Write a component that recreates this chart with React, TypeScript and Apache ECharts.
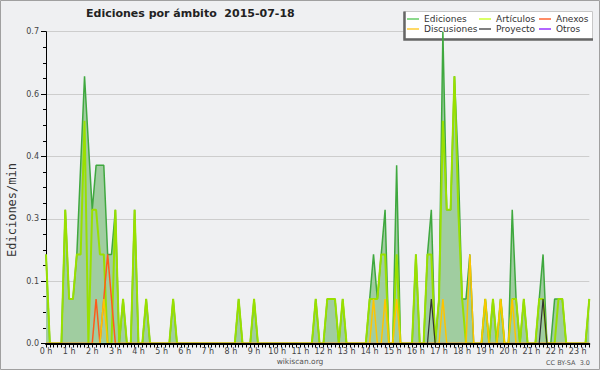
import React, { useEffect, useRef } from "react";
import * as echarts from "echarts";

// Values every 10 minutes from 0:00 to 23:30 (one row per hour)
const ediciones = [
  0.2, 0, 0, 0, 0, 0.3,
  0.1, 0.1, 0.2, 0.4, 0.6, 0.45,
  0.3, 0.4, 0.4, 0.4, 0.2, 0.2,
  0.3, 0, 0.1, 0, 0, 0.3,
  0, 0, 0.1, 0, 0, 0,
  0, 0, 0, 0.1, 0, 0,
  0, 0, 0, 0, 0, 0,
  0, 0, 0, 0, 0, 0,
  0, 0, 0.1, 0, 0, 0,
  0.1, 0, 0, 0, 0, 0,
  0, 0, 0, 0, 0, 0,
  0, 0, 0, 0, 0.1, 0,
  0, 0.1, 0.1, 0.1, 0, 0.1,
  0, 0, 0, 0, 0, 0,
  0.1, 0.2, 0.1, 0.2, 0.3, 0,
  0, 0.4, 0, 0, 0, 0,
  0.2, 0, 0, 0.2, 0.3, 0,
  0.1, 0.7, 0.3, 0.3, 0.6, 0.4,
  0.1, 0.1, 0.2, 0, 0, 0,
  0.1, 0, 0.1, 0, 0.1, 0,
  0, 0.3, 0.1, 0, 0.1, 0,
  0, 0, 0.1, 0.2, 0, 0,
  0.1, 0.1, 0.1, 0, 0, 0,
  0, 0, 0, 0.1,
];

const articulos = [
  0.2, 0, 0, 0, 0, 0.3,
  0.1, 0.1, 0.2, 0.2, 0.5, 0,
  0.3, 0.3, 0.2, 0.2, 0, 0,
  0.3, 0, 0.1, 0, 0, 0.3,
  0, 0, 0.1, 0, 0, 0,
  0, 0, 0, 0.1, 0, 0,
  0, 0, 0, 0, 0, 0,
  0, 0, 0, 0, 0, 0,
  0, 0, 0.1, 0, 0, 0,
  0.1, 0, 0, 0, 0, 0,
  0, 0, 0, 0, 0, 0,
  0, 0, 0, 0, 0.1, 0,
  0, 0.1, 0.1, 0.1, 0, 0.1,
  0, 0, 0, 0, 0, 0,
  0.1, 0.1, 0.1, 0.2, 0.2, 0,
  0, 0.2, 0, 0, 0, 0,
  0.2, 0, 0, 0.2, 0.2, 0,
  0.1, 0.5, 0.3, 0.3, 0.6, 0.3,
  0.1, 0, 0, 0, 0, 0,
  0.1, 0, 0.1, 0, 0.1, 0,
  0, 0.1, 0.1, 0, 0.1, 0,
  0, 0, 0.1, 0.1, 0, 0,
  0, 0.1, 0.1, 0, 0, 0,
  0, 0, 0, 0.1,
];

const anexos = [
  0, 0, 0, 0, 0, 0,
  0, 0, 0, 0, 0, 0,
  0, 0.1, 0, 0.1, 0.2, 0.1,
  0, 0, 0, 0, 0, 0,
  0, 0, 0, 0, 0, 0,
  0, 0, 0, 0, 0, 0,
  0, 0, 0, 0, 0, 0,
  0, 0, 0, 0, 0, 0,
  0, 0, 0, 0, 0, 0,
  0, 0, 0, 0, 0, 0,
  0, 0, 0, 0, 0, 0,
  0, 0, 0, 0, 0, 0,
  0, 0, 0, 0, 0, 0,
  0, 0, 0, 0, 0, 0,
  0, 0, 0, 0, 0, 0,
  0, 0, 0, 0, 0, 0,
  0, 0, 0, 0, 0, 0,
  0, 0, 0, 0, 0, 0,
  0, 0, 0, 0, 0, 0,
  0, 0, 0, 0, 0, 0,
  0, 0, 0, 0, 0, 0,
  0, 0, 0, 0, 0, 0,
  0, 0, 0, 0, 0, 0,
  0, 0, 0, 0,
];

const discusiones = [
  0, 0, 0, 0, 0, 0,
  0, 0, 0, 0, 0, 0,
  0, 0, 0, 0.1, 0, 0,
  0, 0, 0, 0, 0, 0,
  0, 0, 0, 0, 0, 0,
  0, 0, 0, 0, 0, 0,
  0, 0, 0, 0, 0, 0,
  0, 0, 0, 0, 0, 0,
  0, 0, 0, 0, 0, 0,
  0, 0, 0, 0, 0, 0,
  0, 0, 0, 0, 0, 0,
  0, 0, 0, 0, 0, 0,
  0, 0, 0, 0, 0, 0,
  0, 0, 0, 0, 0, 0,
  0, 0.1, 0, 0, 0.1, 0,
  0, 0.1, 0, 0, 0, 0,
  0, 0, 0, 0, 0, 0,
  0, 0.1, 0, 0, 0, 0,
  0, 0, 0.2, 0, 0, 0,
  0.1, 0, 0, 0, 0.1, 0,
  0, 0.1, 0, 0, 0, 0,
  0, 0, 0, 0, 0, 0,
  0, 0, 0, 0, 0, 0,
  0, 0, 0, 0,
];

const proyecto = [
  0, 0, 0, 0, 0, 0,
  0, 0, 0, 0, 0, 0,
  0, 0, 0, 0, 0, 0,
  0, 0, 0, 0, 0, 0,
  0, 0, 0, 0, 0, 0,
  0, 0, 0, 0, 0, 0,
  0, 0, 0, 0, 0, 0,
  0, 0, 0, 0, 0, 0,
  0, 0, 0, 0, 0, 0,
  0, 0, 0, 0, 0, 0,
  0, 0, 0, 0, 0, 0,
  0, 0, 0, 0, 0, 0,
  0, 0, 0, 0, 0, 0,
  0, 0, 0, 0, 0, 0,
  0, 0, 0, 0, 0, 0,
  0, 0, 0, 0, 0, 0,
  0, 0, 0, 0, 0.1, 0,
  0, 0, 0, 0, 0, 0,
  0, 0, 0, 0, 0, 0,
  0, 0, 0, 0, 0, 0,
  0, 0, 0, 0, 0, 0,
  0, 0, 0, 0.1, 0, 0,
  0, 0, 0, 0, 0, 0,
  0, 0, 0, 0,
];

const otros: number[] = [];

const seriesNames = ["Ediciones", "Artículos", "Anexos", "Discusiones", "Proyecto", "Otros"];
const STEP_HOURS = 1 / 6;

const toPoints = (arr: number[]) => arr.map((v, i) => [i * STEP_HOURS, v]);

export default function App() {
  const ref = useRef<HTMLDivElement>(null);

  useEffect(() => {
    document.body.style.margin = "0";
    if (!ref.current) return;
    const chart = echarts.init(ref.current, undefined, { renderer: "svg" });
    const font = "DejaVu Sans";
    const legendText = { fontSize: 9, color: "#333", fontFamily: font, lineHeight: 10 };
    const mkLegend = (names: string[], colors: string[], left: number) => ({
      orient: "vertical",
      left,
      top: 14,
      padding: 0,
      itemGap: 0,
      itemWidth: 12,
      itemHeight: 1.5,
      selectedMode: false,
      z: 10,
      textStyle: legendText,
      data: names.map((n, k) => ({
        name: n,
        icon: "rect",
        itemStyle: { color: colors[k] },
      })),
    });

    const lineSeries = (name: string, data: number[], color: string, width: number, extra: any = {}) => ({
      name,
      type: "line",
      data: toPoints(data),
      symbol: "none",
      showSymbol: false,
      lineStyle: { color, width },
      itemStyle: { color },
      ...extra,
    });

    chart.setOption({
      animation: false,
      backgroundColor: "#eff0f2",
      grid: { left: 46, right: 10.7, top: 31.7, bottom: 26.5 },
      xAxis: {
        type: "value",
        min: 0,
        max: 23.5,
        interval: 1,
        z: 5,
        axisLine: { show: true, lineStyle: { color: "#000", width: 2 } },
        axisTick: { show: true, length: 4, lineStyle: { color: "#000" } },
        minorTick: { show: true, splitNumber: 6, length: 4, lineStyle: { color: "#000" } },
        splitLine: { show: false },
        axisLabel: {
          formatter: (v: number) => `${v} h`,
          fontSize: 8,
          color: "#444",
          fontFamily: font,
          margin: 4,
        },
      },
      yAxis: {
        type: "value",
        min: 0,
        max: 0.7,
        interval: 0.14,
        axisLine: { show: true, lineStyle: { color: "#000", width: 1 } },
        axisTick: { show: true, length: 5, lineStyle: { color: "#000" } },
        minorTick: { show: true, splitNumber: 4, length: 3, lineStyle: { color: "#000" } },
        splitLine: { show: true, lineStyle: { color: "#cdcdcd", width: 1 } },
        axisLabel: {
          formatter: (v: number) => v.toFixed(1),
          fontSize: 8,
          color: "#444",
          fontFamily: font,
          margin: 7,
        },
      },
      legend: [
        mkLegend([seriesNames[0], seriesNames[3]], ["#66cc66", "#ffcc33"], 407),
        mkLegend([seriesNames[1], seriesNames[4]], ["#ccff33", "#555555"], 479),
        mkLegend([seriesNames[2], seriesNames[5]], ["#ff6633", "#9933ff"], 539),
      ],
      series: [
        lineSeries(seriesNames[0], ediciones, "#3fa83f", 1.5, {
          areaStyle: { color: "#a0cda0", opacity: 1 },
        }),
        lineSeries(seriesNames[1], articulos, "#99e000", 2),
        lineSeries(seriesNames[2], anexos, "#ff5a1a", 1.5),
        lineSeries(seriesNames[3], discusiones, "#ffc400", 1.5),
        lineSeries(seriesNames[4], proyecto, "#333333", 1.2),
        lineSeries(seriesNames[5], otros, "#9933ff", 1.2),
      ],
      graphic: [
        {
          type: "rect",
          z: 0,
          shape: { x: 0.5, y: 0.5, width: 599, height: 369 },
          style: { fill: "none", stroke: "#a0a0a0", lineWidth: 1 },
        },
        {
          type: "rect",
          z: 1,
          shape: { x: 404, y: 11.5, width: 188.5, height: 27.5 },
          style: { fill: "#ffffff", stroke: "#c8c8c8", lineWidth: 1 },
        },
        {
          type: "polyline",
          z: 2,
          shape: { points: [[404.5, 11.5], [404.5, 39.5], [593, 39.5]] },
          style: { fill: "none", stroke: "#666", lineWidth: 2.5 },
        },
        {
          type: "text",
          z: 10,
          x: 86,
          y: 13,
          style: {
            text: "Ediciones por ámbito  2015-07-18",
            font: "bold 11px 'DejaVu Sans'",
            fill: "#222",
            textVerticalAlign: "middle",
          },
        },
        {
          type: "text",
          z: 10,
          x: 12,
          y: 210,
          rotation: Math.PI / 2,
          style: {
            text: "Ediciones/min",
            font: "12px 'DejaVu Sans Mono'",
            fill: "#333",
            textAlign: "center",
            textVerticalAlign: "middle",
          },
        },
        {
          type: "text",
          z: 10,
          x: 300,
          y: 361,
          style: {
            text: "wikiscan.org",
            font: "7.5px 'DejaVu Sans'",
            fill: "#555",
            textAlign: "center",
            textVerticalAlign: "middle",
          },
        },
        {
          type: "text",
          z: 10,
          x: 590,
          y: 362.5,
          style: {
            text: "CC BY-SA  3.0",
            font: "6.5px 'DejaVu Sans'",
            fill: "#555",
            textAlign: "right",
            textVerticalAlign: "middle",
          },
        },
      ],
    });
    return () => chart.dispose();
  }, []);

  return <div ref={ref} style={{ width: 600, height: 370 }} />;
}
